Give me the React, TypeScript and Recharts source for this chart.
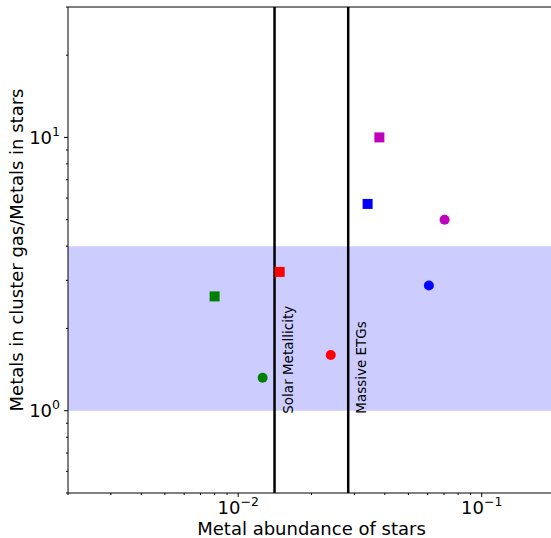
import React from 'react';
import {
  ReferenceArea,
  ReferenceDot,
  ReferenceLine,
  Scatter,
  ScatterChart,
  XAxis,
  YAxis,
  Cell,
} from 'recharts';

const FONT = '"DejaVu Sans", sans-serif';

// four samples, squares and circles share colours
const groupColors = ['#008000', '#ff0000', '#0000ff', '#bf00bf'];

const squareX = [0.008, 0.0148, 0.034, 0.038];
const squareY = [2.62, 3.22, 5.71, 10.0];
const circleX = [0.0126, 0.024, 0.0607, 0.0704];
const circleY = [1.32, 1.6, 2.87, 5.0];

const solarZ = 0.0141;
const etgZ = 0.0283;
const bandLow = 1;
const bandHigh = 4;

const xDomain = [0.002, 0.2];
const yDomain = [0.5, 30];
const xTicks = [
  0.002, 0.003, 0.004, 0.005, 0.006, 0.007, 0.008, 0.009,
  0.01, 0.02, 0.03, 0.04, 0.05, 0.06, 0.07, 0.08, 0.09,
  0.1, 0.2,
];
const yTicks = [0.5, 0.6, 0.7, 0.8, 0.9, 1, 2, 3, 4, 5, 6, 7, 8, 9, 10, 20, 30];

const squares = squareX.map((x, i) => ({ x, y: squareY[i] }));
const circles = circleX.map((x, i) => ({ x, y: circleY[i] }));

function isDecade(v: number) {
  const l = Math.log10(v);
  return Math.abs(l - Math.round(l)) < 1e-9;
}

function expLabel(v: number) {
  const e = Math.round(Math.log10(v));
  return e < 0 ? `\u2212${-e}` : `${e}`;
}

function XTick(props: any) {
  const { x, y, payload } = props;
  const major = isDecade(payload.value);
  return (
    <g>
      <line x1={x} x2={x} y1={y} y2={y + (major ? 4 : 2)} stroke="#000" strokeWidth={1} />
      {major && (
        <text x={x} y={y + 21} textAnchor="middle" fontFamily={FONT} fontSize={18} fill="#000">
          <tspan>10</tspan>
          <tspan dy={-8} fontSize={12.5}>{expLabel(payload.value)}</tspan>
        </text>
      )}
    </g>
  );
}

function YTick(props: any) {
  const { x, y, payload } = props;
  const major = isDecade(payload.value);
  return (
    <g>
      <line x1={x - (major ? 4 : 2)} x2={x} y1={y} y2={y} stroke="#000" strokeWidth={1} />
      {major && (
        <text x={x - 8} y={y + 6.5} textAnchor="end" fontFamily={FONT} fontSize={18} fill="#000">
          <tspan>10</tspan>
          <tspan dy={-8} fontSize={12.5}>{expLabel(payload.value)}</tspan>
        </text>
      )}
    </g>
  );
}

function Square(props: any) {
  const { cx, cy, fill } = props;
  return <rect x={cx - 5} y={cy - 5} width={10} height={10} fill={fill} />;
}

function Circle(props: any) {
  const { cx, cy, fill } = props;
  return <circle cx={cx} cy={cy} r={5} fill={fill} />;
}

function vertLabel(text: string) {
  return (props: any) => {
    const vb = props.viewBox ?? {};
    const cx = vb.x + (vb.width ?? 0) / 2 + 18;
    const cy = vb.y + (vb.height ?? 0) / 2 + 3;
    return (
      <text
        x={cx}
        y={cy}
        transform={`rotate(-90, ${cx}, ${cy})`}
        textAnchor="start"
        fontFamily={FONT}
        fontSize={13.5}
        fill="#000"
      >
        {text}
      </text>
    );
  };
}

function xTitle(props: any) {
  const vb = props.viewBox ?? {};
  return (
    <text x={vb.x + vb.width / 2} y={vb.y + 42} textAnchor="middle" fontFamily={FONT} fontSize={18} fill="#000">
      Metal abundance of stars
    </text>
  );
}

function yTitle(props: any) {
  const vb = props.viewBox ?? {};
  const cx = vb.x + 15;
  const cy = vb.y + vb.height / 2;
  return (
    <text
      x={cx}
      y={cy}
      transform={`rotate(-90, ${cx}, ${cy})`}
      textAnchor="middle"
      fontFamily={FONT}
      fontSize={18}
      fill="#000"
    >
      Metals in cluster gas/Metals in stars
    </text>
  );
}

export default function App() {
  return (
    <div style={{ position: 'absolute', left: 0, top: 0, width: 551, height: 538, overflow: 'hidden', background: '#fff' }}>
      <ScatterChart width={555} height={538} margin={{ top: 7, right: 0, bottom: 0, left: 8 }}>
        <XAxis
          type="number"
          dataKey="x"
          scale="log"
          domain={xDomain}
          allowDataOverflow
          ticks={xTicks}
          interval={0}
          tickLine={false}
          tickSize={0}
          tickMargin={0}
          tick={<XTick />}
          height={45}
          axisLine={{ stroke: '#000', strokeWidth: 1 }}
          label={xTitle}
        />
        <YAxis
          type="number"
          dataKey="y"
          scale="log"
          domain={yDomain}
          allowDataOverflow
          ticks={yTicks}
          interval={0}
          tickLine={false}
          tickSize={0}
          tickMargin={0}
          tick={<YTick />}
          width={60}
          axisLine={{ stroke: '#000', strokeWidth: 1 }}
          label={yTitle}
        />
        <ReferenceArea y1={bandLow} y2={bandHigh} fill="#ccccff" fillOpacity={1} stroke="none" />
        <ReferenceLine y={yDomain[1]} stroke="#000" strokeWidth={1} />
        <ReferenceLine x={solarZ} stroke="#000" strokeWidth={2.5} />
        <ReferenceLine x={etgZ} stroke="#000" strokeWidth={2.5} />
        <ReferenceDot x={solarZ} y={bandLow} r={1} fill="none" stroke="none" label={vertLabel('Solar Metallicity')} />
        <ReferenceDot x={etgZ} y={bandLow} r={1} fill="none" stroke="none" label={vertLabel('Massive ETGs')} />
        <Scatter data={squares} shape={<Square />} isAnimationActive={false}>
          {squares.map((_, i) => (
            <Cell key={i} fill={groupColors[i]} />
          ))}
        </Scatter>
        <Scatter data={circles} shape={<Circle />} isAnimationActive={false}>
          {circles.map((_, i) => (
            <Cell key={i} fill={groupColors[i]} />
          ))}
        </Scatter>
      </ScatterChart>
    </div>
  );
}
